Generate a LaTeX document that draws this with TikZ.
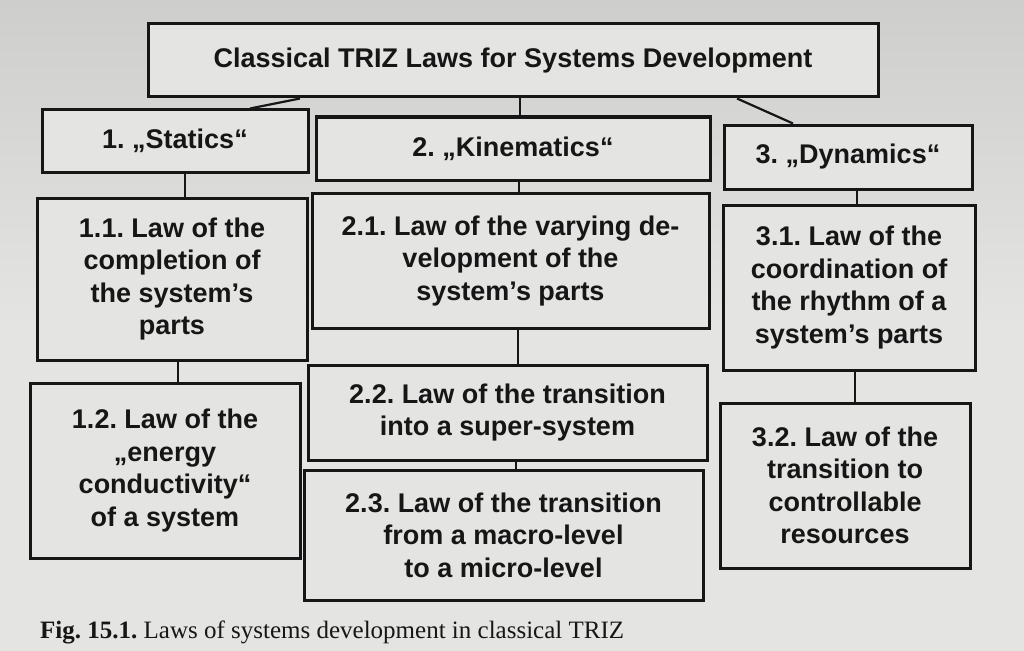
\documentclass[tikz,border=0pt]{standalone}
\usepackage{fontspec}
\setmainfont{Liberation Sans}
\newfontfamily\capfont{Liberation Serif}
\usetikzlibrary{calc}
\frenchspacing
\definecolor{paper}{RGB}{228,228,226}
\definecolor{paperdark}{RGB}{206,206,205}
\definecolor{ink}{RGB}{22,22,22}
\tikzset{
  box/.style={draw=ink, line width=3pt, fill=paper, rectangle, inner sep=0pt,
    align=center, text=ink, font=\fontsize{27}{32.5}\selectfont\bfseries},
  link/.style={draw=ink, line width=2.2pt}
}
\begin{document}
\begin{tikzpicture}[x=1pt,y=-1pt]
\shade[top color=paperdark, bottom color=paper, middle color=paper] (0,0) rectangle (1024,650);
\useasboundingbox (0,0) rectangle (1024,650);
% top
\node[box, minimum width=730pt, minimum height=73pt] (T) at (513,60.5) {Classical TRIZ Laws for Systems Development};
% level 1
\node[box, minimum width=266pt, minimum height=62pt] (S1) at (175,141) {1. „Statics“};
\node[box, minimum width=394pt, minimum height=63pt] (S2) at (513,148.5) {2. „Kinematics“};
\node[box, minimum width=248pt, minimum height=64pt] (S3) at (848,157) {3. „Dynamics“};
% level 2
\node[box, minimum width=270pt, minimum height=162pt] (B11) at (172,279) {1.1. Law of the\\completion of\\the system’s\\parts};
\node[box, minimum width=397pt, minimum height=135pt] (B21) at (510.5,261) {2.1. Law of the varying de-\\velopment of the\\system’s parts};
\node[box, minimum width=252pt, minimum height=165pt] (B31) at (849,287.5) {3.1. Law of the\\coordination of\\the rhythm of a\\system’s parts};
% level 3
\node[box, minimum width=270pt, minimum height=175pt] (B12) at (165,470.5) {1.2. Law of the\\„energy\\conductivity“\\of a system};
\node[box, minimum width=399pt, minimum height=95pt] (B22) at (507.5,412.5) {2.2. Law of the transition\\into a super-system};
\node[box, minimum width=399pt, minimum height=130pt] (B23) at (503.5,535) {2.3. Law of the transition\\from a macro-level\\to a micro-level};
\node[box, minimum width=250pt, minimum height=165pt] (B32) at (845,485.5) {3.2. Law of the\\transition to\\controllable\\resources};
% connectors
\draw[link] ([xshift=-213pt]T.south) -- ([xshift=75pt]S1.north);
\draw[link] ([xshift=7pt]T.south) -- ([xshift=7pt]T.south |- S2.north);
\draw[link] ([xshift=224pt]T.south) -- ([xshift=-55pt]S3.north);
\draw[link] ([xshift=10pt]S1.south) -- ([xshift=10pt]S1.south |- B11.north);
\draw[link] ([xshift=6pt]B11.south) -- ([xshift=6pt]B11.south |- B12.north);
\draw[link] ([xshift=6pt]S2.south) -- ([xshift=6pt]S2.south |- B21.north);
\draw[link] ([xshift=7.5pt]B21.south) -- ([xshift=7.5pt]B21.south |- B22.north);
\draw[link] ([xshift=8.5pt]B22.south) -- ([xshift=8.5pt]B22.south |- B23.north);
\draw[link] ([xshift=9pt]S3.south) -- ([xshift=9pt]S3.south |- B31.north);
\draw[link] ([xshift=6pt]B31.south) -- ([xshift=6pt]B31.south |- B32.north);
% caption
\node[anchor=base west, inner sep=0pt, text=ink, font=\capfont\fontsize{25}{28}\selectfont] (cap) at (40,638) {\textbf{Fig. 15.1.} Laws of systems development in classical TRIZ};
\end{tikzpicture}
\end{document}
